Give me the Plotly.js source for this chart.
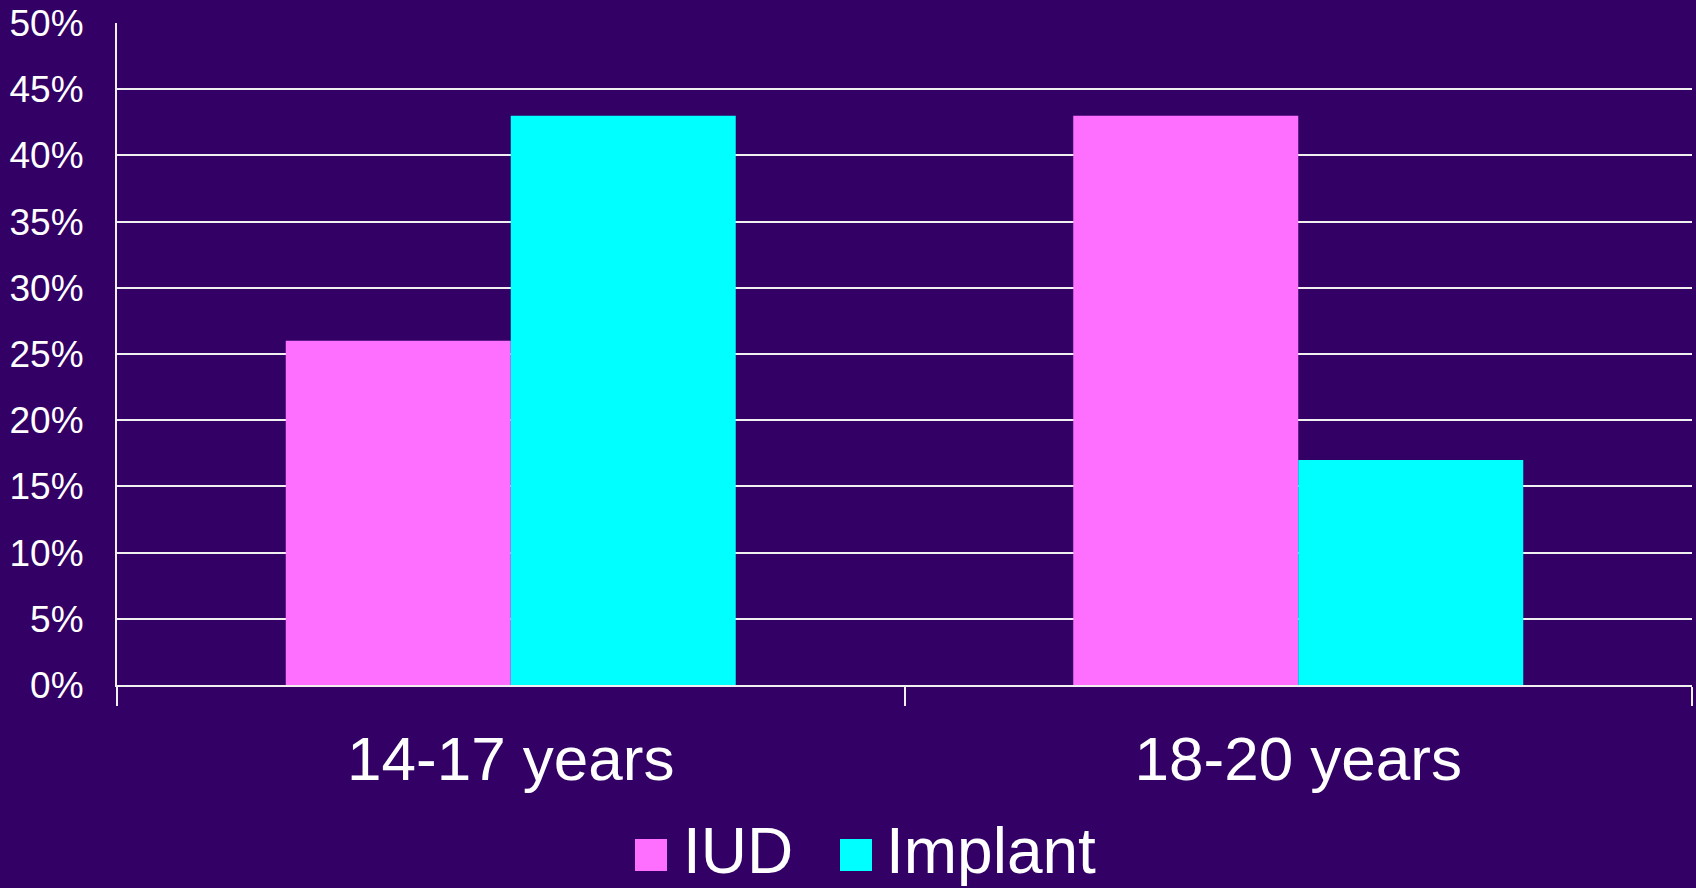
<!DOCTYPE html>
<html>
<head>
<meta charset="utf-8">
<script src="https://cdn.plot.ly/plotly-3.0.1.min.js"></script>
<style>
  html, body { margin: 0; padding: 0; background: #330066; }
  #chart { width: 1696px; height: 888px; }
</style>
</head>
<body>
<div id="chart"></div>
<script>
// ---- data ----
const categories = ["14-17 years", "18-20 years"];
const seriesNames = ["IUD", "Implant"];
const iudValues = [26, 43];
const implantValues = [43, 17];
const seriesColors = ["#FF6FFF", "#00FFFF"];
const yTickValues = [0, 5, 10, 15, 20, 25, 30, 35, 40, 45, 50];

const FONT = '"Liberation Sans", Arial, Helvetica, sans-serif';
const BG = '#330066';

const traces = [
  { type: 'bar', name: seriesNames[0], x: categories, y: iudValues,
    marker: { color: seriesColors[0], line: { width: 0 } }, hoverinfo: 'none' },
  { type: 'bar', name: seriesNames[1], x: categories, y: implantValues,
    marker: { color: seriesColors[1], line: { width: 0 } }, hoverinfo: 'none' }
];

// manual legend (large squares like the original)
const plotL = 117, plotB = 685, plotW = 1575, plotH = 662;
const legendSquareLeftPx = [635, 840];
const legendTextLeftPx = [681, 884];
const sq = 32;
const shapes = [];
const annotations = [];
seriesNames.forEach((n, i) => {
  const x0 = (legendSquareLeftPx[i] - plotL) / plotW;
  const x1 = x0 + sq / plotW;
  const yc = -(855 - plotB) / plotH;
  shapes.push({ type: 'rect', xref: 'paper', yref: 'paper',
    x0: x0, x1: x1, y0: yc - (sq / 2) / plotH, y1: yc + (sq / 2) / plotH,
    fillcolor: seriesColors[i], line: { width: 0 } });
  annotations.push({ xref: 'paper', yref: 'paper',
    x: (legendTextLeftPx[i] - plotL) / plotW, y: -(851 - plotB) / plotH,
    xanchor: 'left', yanchor: 'middle', showarrow: false, text: n,
    font: { family: FONT, size: 64, color: '#FFFFFF' } });
});

const layout = {
  width: 1696, height: 888,
  paper_bgcolor: BG, plot_bgcolor: BG,
  margin: { l: 117, r: 4, t: 23, b: 203 },
  font: { family: FONT, color: '#FFFFFF' },
  showlegend: false,
  barmode: 'group',
  bargap: 0.4286,
  bargroupgap: 0,
  xaxis: {
    type: 'category',
    showgrid: false,
    showline: true, linecolor: '#F0F0F0', linewidth: 2,
    ticks: 'outside', tickson: 'boundaries', ticklen: 19, tickwidth: 2, tickcolor: '#F0F0F0',
    tickfont: { family: FONT, size: 62, color: '#FFFFFF' },
    ticklabelstandoff: 19,
    zeroline: false
  },
  yaxis: {
    range: [0, 50],
    tickvals: yTickValues,
    ticktext: yTickValues.map(v => v + '%'),
    showgrid: true, gridcolor: '#F0F0F0', gridwidth: 2,
    showline: true, linecolor: '#F0F0F0', linewidth: 2,
    ticks: '',
    ticklabelstandoff: 24,
    tickfont: { family: FONT, size: 37, color: '#FFFFFF' },
    zeroline: false,
    fixedrange: true
  },
  shapes: shapes,
  annotations: annotations
};

Plotly.newPlot('chart', traces, layout, { staticPlot: true, displayModeBar: false });
</script>
</body>
</html>
